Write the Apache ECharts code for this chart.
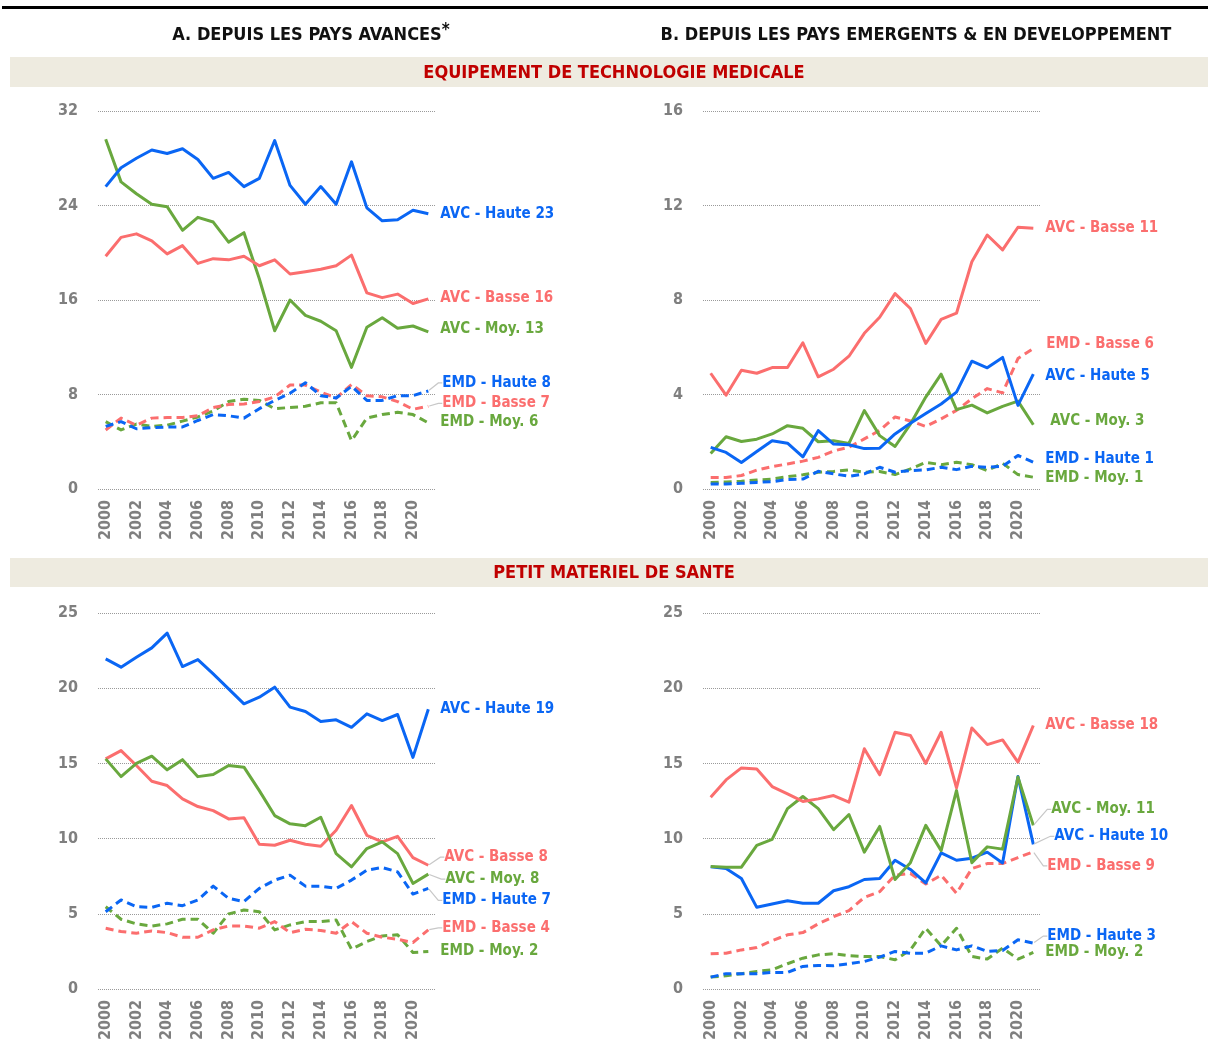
<!DOCTYPE html>
<html><head><meta charset="utf-8">
<script src="https://cdn.jsdelivr.net/npm/echarts@6/dist/echarts.min.js"></script>
<style>html,body{margin:0;padding:0;background:#fff}#c{width:1208px;height:1044px}</style>
</head><body><div id="c"></div>
<script>
// ---------- data ----------
const years = ['2000','2001','2002','2003','2004','2005','2006','2007','2008','2009','2010','2011','2012','2013','2014','2015','2016','2017','2018','2019','2020','2021'];

const headerA = 'A. DEPUIS LES PAYS AVANCES';
const headerB = 'B. DEPUIS LES PAYS EMERGENTS & EN DEVELOPPEMENT';
const band1 = 'EQUIPEMENT DE TECHNOLOGIE MEDICALE';
const band2 = 'PETIT MATERIEL DE SANTE';

// A / Equipement (top-left)
const tlAvcHaute = [25.6,27.2,28.0,28.7,28.4,28.8,27.9,26.3,26.8,25.6,26.3,29.5,25.7,24.1,25.6,24.1,27.7,23.8,22.7,22.8,23.6,23.3];
const tlAvcBasse = [19.7,21.3,21.6,21.0,19.9,20.6,19.1,19.5,19.4,19.7,18.9,19.4,18.2,18.4,18.6,18.9,19.8,16.6,16.2,16.5,15.7,16.1];
const tlAvcMoy   = [29.6,26.0,25.0,24.1,23.9,21.9,23.0,22.6,20.9,21.7,17.8,13.4,16.0,14.7,14.2,13.4,10.3,13.7,14.5,13.6,13.8,13.3];
const tlEmdHaute = [5.3,5.7,5.1,5.2,5.25,5.25,5.8,6.3,6.2,6.0,6.8,7.5,8.1,9.0,7.9,7.7,8.7,7.5,7.5,7.9,7.9,8.3];
const tlEmdBasse = [5.0,6.0,5.4,6.0,6.05,6.05,6.2,6.9,7.15,7.2,7.4,7.8,8.8,8.8,8.2,7.7,8.85,7.9,7.8,7.4,6.75,7.0];
const tlEmdMoy   = [5.7,5.0,5.5,5.3,5.4,5.75,6.1,6.6,7.4,7.6,7.5,6.8,6.9,7.0,7.3,7.3,4.1,6.0,6.3,6.5,6.3,5.6];

// B / Equipement (top-right)
const trAvcBasse = [4.9,3.97,5.03,4.9,5.14,5.14,6.19,4.75,5.07,5.62,6.59,7.27,8.27,7.64,6.16,7.18,7.44,9.62,10.75,10.12,11.08,11.04];
const trAvcHaute = [1.76,1.55,1.12,1.59,2.04,1.94,1.36,2.47,1.9,1.87,1.71,1.73,2.33,2.78,3.2,3.6,4.1,5.41,5.13,5.57,3.54,4.86];
const trAvcMoy   = [1.5,2.21,2.01,2.11,2.33,2.68,2.57,2.0,2.04,1.93,3.32,2.26,1.8,2.75,3.89,4.86,3.36,3.55,3.22,3.5,3.72,2.72];
const trEmdBasse = [0.49,0.49,0.57,0.8,0.95,1.06,1.18,1.34,1.61,1.77,2.12,2.48,3.05,2.88,2.65,2.97,3.33,3.82,4.25,4.07,5.52,5.95];
const trEmdHaute = [0.21,0.21,0.24,0.28,0.31,0.4,0.42,0.75,0.64,0.54,0.64,0.92,0.71,0.78,0.81,0.92,0.82,0.96,0.92,0.96,1.42,1.13];
const trEmdMoy   = [0.28,0.3,0.33,0.38,0.42,0.52,0.6,0.71,0.74,0.81,0.71,0.74,0.61,0.85,1.13,1.03,1.13,1.03,0.78,1.09,0.61,0.5];

// A / Petit matériel (bottom-left)
const blAvcHaute = [21.95,21.4,22.06,22.68,23.66,21.44,21.9,20.95,19.96,18.96,19.4,20.07,18.74,18.45,17.78,17.9,17.4,18.3,17.85,18.25,15.4,18.6];
const blAvcBasse = [15.3,15.85,14.86,13.81,13.53,12.64,12.13,11.86,11.31,11.38,9.62,9.56,9.89,9.62,9.49,10.55,12.2,10.22,9.78,10.15,8.74,8.23];
const blAvcMoy   = [15.3,14.12,15.0,15.48,14.57,15.25,14.12,14.26,14.86,14.75,13.19,11.53,10.98,10.86,11.42,9.0,8.12,9.34,9.78,9.0,7.02,7.64];
const blEmdHaute = [5.14,5.92,5.47,5.43,5.7,5.54,5.92,6.84,6.03,5.81,6.69,7.24,7.57,6.84,6.84,6.69,7.24,7.9,8.08,7.79,6.31,6.69];
const blEmdBasse = [4.04,3.82,3.71,3.86,3.75,3.44,3.44,3.93,4.19,4.19,4.04,4.48,3.75,3.97,3.89,3.71,4.48,3.71,3.44,3.31,3.09,3.93];
const blEmdMoy   = [5.47,4.64,4.33,4.19,4.33,4.64,4.64,3.71,4.99,5.25,5.14,3.93,4.26,4.48,4.48,4.59,2.65,3.16,3.53,3.6,2.43,2.49];

// B / Petit matériel (bottom-right)
const brAvcBasse = [12.75,13.9,14.7,14.63,13.46,12.97,12.47,12.64,12.86,12.42,15.97,14.24,17.07,16.85,15.0,17.07,13.37,17.36,16.25,16.56,15.09,17.52];
const brAvcMoy   = [8.15,8.1,8.1,9.55,9.95,11.99,12.8,11.99,10.59,11.6,9.1,10.81,7.28,8.4,10.88,9.2,13.2,8.4,9.45,9.3,14.09,10.88];
const brAvcHaute = [8.12,8.01,7.35,5.43,5.65,5.87,5.7,5.7,6.53,6.8,7.28,7.35,8.56,7.95,7.05,9.05,8.56,8.7,9.1,8.38,14.13,9.62];
const brEmdBasse = [2.34,2.38,2.6,2.76,3.22,3.6,3.75,4.33,4.81,5.21,6.09,6.47,7.57,7.68,6.98,7.57,6.36,8.01,8.34,8.34,8.74,9.12];
const brEmdHaute = [0.79,1.02,1.02,1.02,1.1,1.1,1.5,1.57,1.55,1.68,1.83,2.12,2.5,2.38,2.38,2.87,2.6,2.87,2.5,2.56,3.27,3.05];
const brEmdMoy   = [0.79,0.88,1.02,1.17,1.28,1.68,2.05,2.27,2.34,2.21,2.16,2.16,1.94,2.6,4.04,2.87,4.04,2.16,1.99,2.72,1.99,2.43];

// axis ranges
const yMax = [32, 16, 25, 25];
const yStep = [8, 4, 5, 5];

// ---------- styles ----------
const FONT = '"DejaVu Sans Condensed","DejaVu Sans",sans-serif';
const BLUE = '#0A66F4', RED = '#FB6E6E', GREEN = '#69A83E';
const GRAY = '#7f7f7f';

const grids = [
  {left: 98,  top: 111, width: 338, height: 378},
  {left: 703, top: 111, width: 338, height: 378},
  {left: 98,  top: 613, width: 338, height: 376},
  {left: 703, top: 613, width: 338, height: 376}
];

function mk(gi, name, data, color, dashed, lab) {
  lab = lab || {};
  const last = data.length - 1;
  return {
    type: 'line', name: name, xAxisIndex: gi, yAxisIndex: gi,
    data: data.map((v, i) => i === last
      ? {value: v, label: {show: true}, labelLine: {show: !!lab.line}}
      : v),
    showSymbol: true, showAllSymbol: true, symbol: 'circle', symbolSize: 2,
    itemStyle: {color: color, opacity: 0},
    lineStyle: {color: color, width: 3, type: dashed ? [8, 5] : 'solid', cap: 'butt', join: 'round'},
    label: {show: false, position: 'right', distance: lab.dist || 11, formatter: '{a}',
      color: color, fontFamily: FONT, fontWeight: 'bold', fontSize: 15, opacity: 1},
    labelLayout: {dx: lab.dx || 0, dy: lab.dy || 0},
    labelLine: {show: false, length2: 4, lineStyle: {color: '#c8c8c8', width: 1.2}},
    emphasis: {disabled: true},
    silent: true, animation: false
  };
}

const series = [
  mk(0, 'EMD - Moy. 6',   tlEmdMoy,   GREEN, true,  {dy: -1}),
  mk(0, 'EMD - Basse 7',  tlEmdBasse, RED,   true,  {dy: -3, dist: 13, line: true}),
  mk(0, 'EMD - Haute 8',  tlEmdHaute, BLUE,  true,  {dy: -8, dist: 13, line: true}),
  mk(0, 'AVC - Moy. 13',  tlAvcMoy,   GREEN, false, {dy: -3}),
  mk(0, 'AVC - Basse 16', tlAvcBasse, RED,   false, {dy: -1}),
  mk(0, 'AVC - Haute 23', tlAvcHaute, BLUE,  false, {}),

  mk(1, 'EMD - Moy. 1',   trEmdMoy,   GREEN, true,  {dy: 1}),
  mk(1, 'EMD - Haute 1',  trEmdHaute, BLUE,  true,  {dy: -3}),
  mk(1, 'EMD - Basse 6',  trEmdBasse, RED,   true,  {dy: -4, dist: 12}),
  mk(1, 'AVC - Moy. 3',   trAvcMoy,   GREEN, false, {dy: -4, dist: 16}),
  mk(1, 'AVC - Haute 5',  trAvcHaute, BLUE,  false, {dy: 2}),
  mk(1, 'AVC - Basse 11', trAvcBasse, RED,   false, {}),

  mk(2, 'EMD - Moy. 2',   blEmdMoy,   GREEN, true,  {}),
  mk(2, 'EMD - Basse 4',  blEmdBasse, RED,   true,  {dy: -2, dist: 13, line: true}),
  mk(2, 'EMD - Haute 7',  blEmdHaute, BLUE,  true,  {dy: 12, dist: 13, line: true}),
  mk(2, 'AVC - Basse 8',  blAvcBasse, RED,   false, {dy: -8, dist: 15, line: true}),
  mk(2, 'AVC - Moy. 8',   blAvcMoy,   GREEN, false, {dy: 5, dist: 16, line: true}),
  mk(2, 'AVC - Haute 19', blAvcHaute, BLUE,  false, {}),

  mk(3, 'EMD - Moy. 2',   brEmdMoy,   GREEN, true,  {}),
  mk(3, 'EMD - Haute 3',  brEmdHaute, BLUE,  true,  {dy: -7, dist: 13, line: true}),
  mk(3, 'EMD - Basse 9',  brEmdBasse, RED,   true,  {dy: 14, dist: 13, line: true}),
  mk(3, 'AVC - Haute 10', brAvcHaute, BLUE,  false, {dy: -8, dist: 20, line: true}),
  mk(3, 'AVC - Moy. 11',  brAvcMoy,   GREEN, false, {dy: -16, dist: 17, line: true}),
  mk(3, 'AVC - Basse 18', brAvcBasse, RED,   false, {})
];

const xAxis = grids.map((g, i) => ({
  type: 'category', gridIndex: i, data: years, boundaryGap: true,
  axisLine: {show: false}, axisTick: {show: false}, splitLine: {show: false},
  axisLabel: {interval: 1, rotate: 90, margin: 11, color: GRAY, fontFamily: FONT,
    fontWeight: 'bold', fontSize: 16}
}));
const yAxis = grids.map((g, i) => ({
  type: 'value', gridIndex: i, min: 0, max: yMax[i], interval: yStep[i],
  axisLine: {show: false}, axisTick: {show: false},
  splitLine: {show: true, lineStyle: {color: '#9a9a9a', type: [1, 1], width: 1}},
  axisLabel: {margin: 20, color: GRAY, fontFamily: FONT, fontWeight: 'bold', fontSize: 16}
}));

const graphic = [
  {type: 'rect', shape: {x: 2, y: 6, width: 1206, height: 3}, style: {fill: '#000'}, silent: true},
  {type: 'text', x: 311, y: 35, style: {text: '{a|' + headerA + '}{s|*}', align: 'center', verticalAlign: 'middle',
    rich: {a: {fontFamily: FONT, fontWeight: 'bold', fontSize: 18, fill: '#111'},
           s: {fontFamily: FONT, fontWeight: 'bold', fontSize: 17, fill: '#111', verticalAlign: 'top', padding: [0, 0, 9, 0]}}}},
  {type: 'text', x: 916, y: 35, style: {text: headerB, align: 'center', verticalAlign: 'middle',
    fontFamily: FONT, fontWeight: 'bold', fontSize: 18, fill: '#111'}},
  {type: 'rect', shape: {x: 10, y: 57, width: 1198, height: 30}, style: {fill: '#EEEBE0'}, silent: true},
  {type: 'text', x: 614, y: 73, style: {text: band1, align: 'center', verticalAlign: 'middle',
    fontFamily: FONT, fontWeight: 'bold', fontSize: 18, fill: '#C00000'}},
  {type: 'rect', shape: {x: 10, y: 558, width: 1198, height: 29}, style: {fill: '#EEEBE0'}, silent: true},
  {type: 'text', x: 614, y: 573, style: {text: band2, align: 'center', verticalAlign: 'middle',
    fontFamily: FONT, fontWeight: 'bold', fontSize: 18, fill: '#C00000'}}
];

const chart = echarts.init(document.getElementById('c'), null, {renderer: 'canvas'});
chart.setOption({
  backgroundColor: '#fff', animation: false,
  grid: grids, xAxis: xAxis, yAxis: yAxis, series: series, graphic: graphic
});
</script></body></html>
